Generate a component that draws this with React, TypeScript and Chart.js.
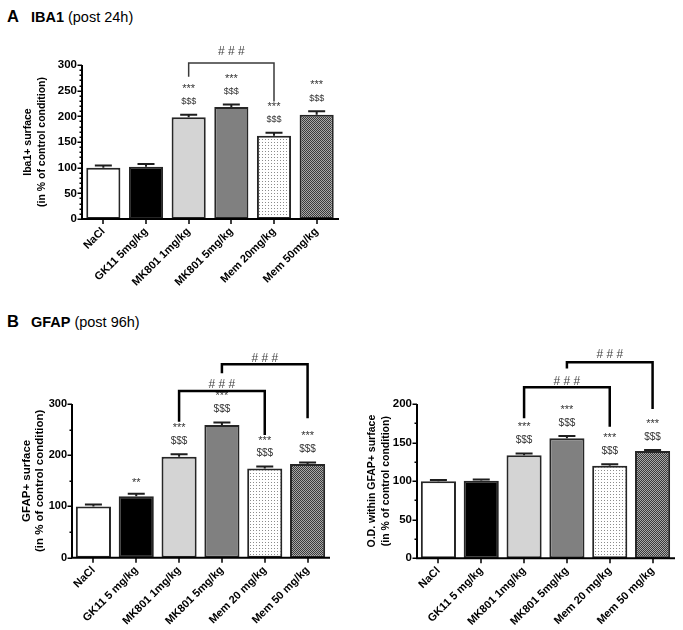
import React, { useEffect, useRef } from "react";
import { Chart, registerables } from "chart.js";

Chart.register(...registerables);

const FONT = "'Liberation Sans', Arial, Helvetica, sans-serif";

// ---------- data ----------
const iba1Labels = ["NaCl", "GK11 5mg/kg", "MK801 1mg/kg", "MK801 5mg/kg", "Mem 20mg/kg", "Mem 50mg/kg"];
const gfapLabels = ["NaCl", "GK11 5 mg/kg", "MK801 1mg/kg", "MK801 5mg/kg", "Mem 20 mg/kg", "Mem 50 mg/kg"];

const iba1Values = [100, 102, 198, 218, 162, 203];
const iba1Errors = [4, 5, 5, 5, 6, 7];
const iba1Lower = ["", "", "$$$", "$$$", "$$$", "$$$"];
const iba1Upper = ["", "", "***", "***", "***", "***"];

const gfapSurfValues = [100, 120, 197, 259, 174, 183];
const gfapSurfErrors = [4, 5, 5, 5, 4, 3];
const gfapSurfLower = ["", "**", "$$$", "$$$", "$$$", "$$$"];
const gfapSurfUpper = ["", "", "***", "***", "***", "***"];

const gfapOdValues = [100, 100.5, 133.5, 155.5, 120, 139];
const gfapOdErrors = [1.5, 1.5, 2.5, 3, 1.8, 1.5];
const gfapOdLower = ["", "", "$$$", "$$$", "$$$", "$$$"];
const gfapOdUpper = ["", "", "***", "***", "***", "***"];

type Bracket = { from: number; to: number; top: number; leftEnd: number; rightEnd: number; labelAt: number };
const iba1Brackets: Bracket[] = [{ from: 2, to: 4, top: 304, leftEnd: 277, rightEnd: 229, labelAt: 325 }];
const gfapSurfBrackets: Bracket[] = [
  { from: 3, to: 5, top: 377.5, leftEnd: 360, rightEnd: 272, labelAt: 389 },
  { from: 2, to: 4, top: 325.4, leftEnd: 265.5, rightEnd: 239.5, labelAt: 338.5 },
];
const gfapOdBrackets: Bracket[] = [
  { from: 3, to: 5, top: 254, leftEnd: 246, rightEnd: 193.5, labelAt: 263.5 },
  { from: 2, to: 4, top: 221.6, leftEnd: 181.4, rightEnd: 170.5, labelAt: 228.8 },
];
const bracketText = "# # #";

const iba1Title = ["Iba1+ surface", "(in % of control condition)"];
const gfapSurfTitle = ["GFAP+ surface", "(in % of control condition)"];
const gfapOdTitle = ["O.D. within GFAP+ surface", "(in % of control condition)"];

// ---------- styling ----------
type Spec = {
  labels: string[];
  values: number[];
  errors: number[];
  lower: string[];
  upper: string[];
  brackets: Bracket[];
  title: string[];
  yMax: number;
  yStep: number;
  minorStep: number;
  left: number;
  top: number;
  w: number;
  h: number;
  yAxisWidth: number;
  xAxisHeight: number;
  padTop: number;
  padRight: number;
  tickSize: number;
  titleSize: number;
  titleLH: number;
  titlePad: number;
  barPct: number;
  bracketWidth: number;
  bracketColor: string;
  dollarSize: number;
};

function makeFills(ctx: CanvasRenderingContext2D) {
  const t1 = document.createElement("canvas");
  t1.width = 3;
  t1.height = 3;
  const g1 = t1.getContext("2d")!;
  g1.fillStyle = "#ffffff";
  g1.fillRect(0, 0, 3, 3);
  g1.fillStyle = "#8c8c8c";
  g1.fillRect(1, 1, 1, 1);
  const dots = ctx.createPattern(t1, "repeat");

  const t2 = document.createElement("canvas");
  t2.width = 2;
  t2.height = 2;
  const g2 = t2.getContext("2d")!;
  g2.fillStyle = "#3a3a3a";
  g2.fillRect(0, 0, 2, 2);
  g2.fillStyle = "#a8a8a8";
  g2.fillRect(0, 1, 1, 1);
  g2.fillRect(1, 0, 1, 1);
  const check = ctx.createPattern(t2, "repeat");

  return ["#ffffff", "#000000", "#d4d4d4", "#808080", dots, check];
}

function makePlugin(s: Spec) {
  return {
    id: "sigAnnot",
    afterDatasetsDraw(chart: any) {
      const ctx: CanvasRenderingContext2D = chart.ctx;
      const xs = chart.scales.x;
      const ys = chart.scales.y;
      ctx.save();
      // error bars
      ctx.strokeStyle = "#1e1e1e";
      ctx.lineWidth = 2;
      s.values.forEach((v, i) => {
        const cx = xs.getPixelForValue(i);
        const y0 = ys.getPixelForValue(v);
        const y1 = ys.getPixelForValue(v + s.errors[i]);
        ctx.beginPath();
        ctx.moveTo(cx, y0);
        ctx.lineTo(cx, y1);
        ctx.moveTo(cx - 8.5, y1);
        ctx.lineTo(cx + 8.5, y1);
        ctx.stroke();
      });
      // significance texts
      ctx.fillStyle = "#333";
      ctx.textAlign = "center";
      ctx.textBaseline = "middle";
      s.values.forEach((v, i) => {
        const cx = xs.getPixelForValue(i);
        const yt = ys.getPixelForValue(v + s.errors[i]);
        if (s.lower[i]) {
          const isStar = s.lower[i].startsWith("*");
          ctx.font = isStar ? `11px ${FONT}` : `${s.dollarSize}px ${FONT}`;
          ctx.fillText(s.lower[i], cx, yt - 13 + (isStar ? 2 : 0));
        }
        if (s.upper[i]) {
          ctx.font = `11px ${FONT}`;
          ctx.fillText(s.upper[i], cx, yt - 28 + 2);
        }
      });
      // brackets
      ctx.strokeStyle = s.bracketColor;
      ctx.lineWidth = s.bracketWidth;
      ctx.lineJoin = "miter";
      s.brackets.forEach((b) => {
        const xa = xs.getPixelForValue(b.from);
        const xb = xs.getPixelForValue(b.to);
        ctx.beginPath();
        ctx.moveTo(xa, ys.getPixelForValue(b.leftEnd));
        ctx.lineTo(xa, ys.getPixelForValue(b.top));
        ctx.lineTo(xb, ys.getPixelForValue(b.top));
        ctx.lineTo(xb, ys.getPixelForValue(b.rightEnd));
        ctx.stroke();
        ctx.fillStyle = "#444";
        ctx.font = `12px ${FONT}`;
        ctx.fillText(bracketText, (xa + xb) / 2, ys.getPixelForValue(b.labelAt));
      });
      ctx.restore();
    },
    afterDraw(chart: any) {
      const ctx: CanvasRenderingContext2D = chart.ctx;
      const xs = chart.scales.x;
      const ys = chart.scales.y;
      const area = chart.chartArea;
      const ax = area.left;
      const bottom = ys.getPixelForValue(0);
      ctx.save();
      ctx.strokeStyle = "#000";
      ctx.lineWidth = 2;
      ctx.beginPath();
      ctx.moveTo(ax, ys.getPixelForValue(s.yMax));
      ctx.lineTo(ax, bottom + 1);
      ctx.moveTo(ax - 1, bottom);
      ctx.lineTo(area.right + 1, bottom);
      ctx.stroke();
      // y ticks
      ctx.lineWidth = 1.5;
      ctx.beginPath();
      for (let v = 0; v <= s.yMax + 0.001; v += s.minorStep) {
        const major = Math.abs(v / s.yStep - Math.round(v / s.yStep)) < 1e-6;
        const py = Math.round(ys.getPixelForValue(v)) + 0.25;
        ctx.moveTo(ax - (major ? 4.5 : 2.5), py);
        ctx.lineTo(ax, py);
      }
      // x ticks
      s.values.forEach((_, i) => {
        const px = Math.round(xs.getPixelForValue(i));
        ctx.moveTo(px, bottom);
        ctx.lineTo(px, bottom + 5);
      });
      ctx.stroke();
      ctx.restore();
    },
  };
}

function Panel({ s }: { s: Spec }) {
  const ref = useRef<HTMLCanvasElement>(null);
  useEffect(() => {
    const canvas = ref.current!;
    const fills = makeFills(canvas.getContext("2d")!);
    const chart = new Chart(canvas, {
      type: "bar",
      data: {
        labels: s.labels,
        datasets: [
          {
            data: s.values,
            backgroundColor: fills as any,
            borderColor: "#262626",
            borderWidth: 2,
            borderSkipped: false,
            categoryPercentage: 1,
            barPercentage: s.barPct,
          },
        ],
      },
      options: {
        animation: false,
        responsive: false,
        events: [],
        layout: { padding: { top: s.padTop, right: s.padRight, bottom: 0, left: 0 } },
        plugins: { legend: { display: false }, tooltip: { enabled: false } },
        scales: {
          x: {
            grid: { display: false, drawTicks: false },
            border: { display: false },
            ticks: {
              autoSkip: false,
              minRotation: 45,
              maxRotation: 45,
              padding: 6,
              color: "#000",
              font: { family: FONT, size: 11, weight: "bold" },
            },
            afterFit: (sc: any) => {
              sc.height = s.xAxisHeight;
            },
          },
          y: {
            min: 0,
            max: s.yMax,
            grid: { display: false, drawTicks: false },
            border: { display: false },
            ticks: {
              stepSize: s.yStep,
              padding: 5,
              color: "#000",
              font: { family: FONT, size: s.tickSize, weight: "bold" },
            },
            title: {
              display: true,
              text: s.title,
              color: "#000",
              font: { family: FONT, size: s.titleSize, weight: "bold", lineHeight: `${s.titleLH}px` },
              padding: { top: s.titlePad, bottom: 0 },
            },
            afterFit: (sc: any) => {
              sc.width = s.yAxisWidth;
            },
          },
        },
      } as any,
      plugins: [makePlugin(s)],
    });
    return () => chart.destroy();
  }, []);
  return (
    <canvas
      ref={ref}
      width={s.w}
      height={s.h}
      style={{ position: "absolute", left: s.left, top: s.top, width: s.w, height: s.h }}
    />
  );
}

const specA: Spec = {
  labels: iba1Labels,
  values: iba1Values,
  errors: iba1Errors,
  lower: iba1Lower,
  upper: iba1Upper,
  brackets: iba1Brackets,
  title: iba1Title,
  yMax: 300,
  yStep: 50,
  minorStep: 10,
  left: 0,
  top: 30,
  w: 350,
  h: 300,
  yAxisWidth: 82,
  xAxisHeight: 111,
  padTop: 35,
  padRight: 12,
  tickSize: 11.5,
  titleSize: 10.5,
  titleLH: 13.5,
  titlePad: 21.5,
  barPct: 0.8,
  bracketWidth: 1.5,
  bracketColor: "#3a3a3a",
  dollarSize: 9,
};

const specB1: Spec = {
  labels: gfapLabels,
  values: gfapSurfValues,
  errors: gfapSurfErrors,
  lower: gfapSurfLower,
  upper: gfapSurfUpper,
  brackets: gfapSurfBrackets,
  title: gfapSurfTitle,
  yMax: 300,
  yStep: 100,
  minorStep: 50,
  left: 0,
  top: 340,
  w: 345,
  h: 290,
  yAxisWidth: 72,
  xAxisHeight: 72.3,
  padTop: 64,
  padRight: 16,
  tickSize: 11,
  titleSize: 11.5,
  titleLH: 12.5,
  titlePad: 21,
  barPct: 0.82,
  bracketWidth: 2.5,
  bracketColor: "#000",
  dollarSize: 10,
};

const specB2: Spec = {
  labels: gfapLabels,
  values: gfapOdValues,
  errors: gfapOdErrors,
  lower: gfapOdLower,
  upper: gfapOdUpper,
  brackets: gfapOdBrackets,
  title: gfapOdTitle,
  yMax: 200,
  yStep: 50,
  minorStep: 25,
  left: 345,
  top: 340,
  w: 338,
  h: 290,
  yAxisWidth: 72,
  xAxisHeight: 71.7,
  padTop: 64,
  padRight: 9,
  tickSize: 11.5,
  titleSize: 10.5,
  titleLH: 14.5,
  titlePad: 19.5,
  barPct: 0.82,
  bracketWidth: 2.5,
  bracketColor: "#000",
  dollarSize: 10,
};

function Heading({ top, letter, name, sub }: { top: number; letter: string; name: string; sub: string }) {
  return (
    <div
      style={{
        position: "absolute",
        left: 7,
        top,
        fontFamily: FONT,
        lineHeight: "17px",
        whiteSpace: "nowrap",
        color: "#000",
      }}
    >
      <span style={{ fontSize: 16.5, fontWeight: "bold" }}>{letter}</span>
      <span style={{ fontSize: 14.5, fontWeight: "bold", marginLeft: 12 }}>{name}</span>
      <span style={{ fontSize: 14.5, marginLeft: 4 }}>{sub}</span>
    </div>
  );
}

export default function App() {
  return (
    <div
      style={{
        position: "absolute",
        left: 0,
        top: 0,
        width: 683,
        height: 630,
        background: "#fff",
        overflow: "hidden",
      }}
    >
      <Heading top={8} letter="A" name="IBA1" sub="(post 24h)" />
      <Heading top={313} letter="B" name="GFAP" sub="(post 96h)" />
      <Panel s={specA} />
      <Panel s={specB1} />
      <Panel s={specB2} />
    </div>
  );
}
